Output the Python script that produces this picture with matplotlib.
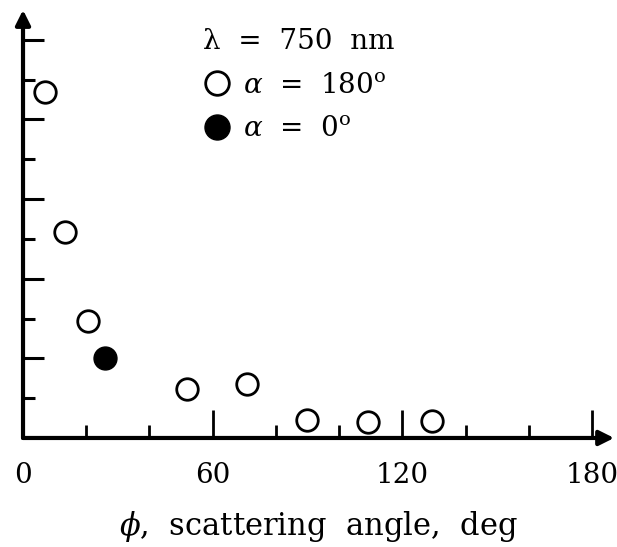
import matplotlib
matplotlib.use("Agg")
import matplotlib.pyplot as plt
from matplotlib.lines import Line2D

# scattering angle (deg) and relative intensity
phi_open = [7, 13.3, 20.6, 52, 71, 90, 109, 129.5]
val_open = [8.7, 5.18, 2.94, 1.23, 1.36, 0.45, 0.40, 0.42]
phi_filled = [26]
val_filled = [2.0]

x_major = [0, 60, 120, 180]
x_minor = [20, 40, 80, 100, 140, 160]
y_major = [2, 4, 6, 8, 10]
y_minor = [1, 3, 5, 7, 9]

plt.rcParams['font.family'] = ['DejaVu Serif']
plt.rcParams['mathtext.fontset'] = 'dejavuserif'

fig = plt.figure(figsize=(6.17, 5.47), dpi=100)
ax = fig.add_axes([0.0373, 0.1993, 0.958, 0.7825])
ax.set_xlim(0, 187)
ax.set_ylim(0, 10.75)

for s in ax.spines.values():
    s.set_visible(False)

# axes drawn as arrows
arr = dict(arrowstyle='-|>', lw=3, color='black', mutation_scale=22,
           shrinkA=0, shrinkB=0)
ax.annotate('', xy=(1, 0), xytext=(0, 0), xycoords='axes fraction',
            textcoords='axes fraction', arrowprops=arr, annotation_clip=False)
ax.annotate('', xy=(0, 1), xytext=(0, 0), xycoords='axes fraction',
            textcoords='axes fraction', arrowprops=arr, annotation_clip=False)

ax.plot(phi_open, val_open, 'o', ms=15.5, mfc='white', mec='black', mew=2,
        clip_on=False)
ax.plot(phi_filled, val_filled, 'o', ms=16.5, mfc='black', mec='black',
        clip_on=False)

ax.set_xticks(x_major)
ax.set_xticks(x_minor, minor=True)
ax.set_xticklabels([str(v) for v in x_major])
ax.set_yticks(y_major)
ax.set_yticks(y_minor, minor=True)
ax.set_yticklabels([])

ax.tick_params(axis='x', which='major', direction='in', length=20, width=2,
               labelsize=20, pad=17)
ax.tick_params(axis='x', which='minor', direction='in', length=9.5, width=2)
ax.tick_params(axis='y', which='major', direction='in', length=15, width=2.2)
ax.tick_params(axis='y', which='minor', direction='in', length=8.6, width=2.2)

ax.set_xlabel(r'$\phi$,  scattering  angle,  deg', fontsize=22, labelpad=15)

handles = [
    Line2D([], [], ls='none', marker='o', ms=17, mfc='white', mec='black', mew=2),
    Line2D([], [], ls='none', marker='o', ms=18, mfc='black', mec='black'),
]
labels = [r'$\alpha$  =  180$^\mathrm{o}$', r'$\alpha$  =  0$^\mathrm{o}$']
leg = ax.legend(handles, labels, title='λ  =  750  nm', frameon=False,
                fontsize=20, title_fontsize=20, alignment='left',
                handlelength=1.0, handletextpad=0.45, labelspacing=0.6,
                borderpad=0, borderaxespad=0,
                loc='upper left', bbox_to_anchor=(203 / 617, 1 - 28 / 547),
                bbox_transform=fig.transFigure)

fig.savefig('out.png', dpi=100)
